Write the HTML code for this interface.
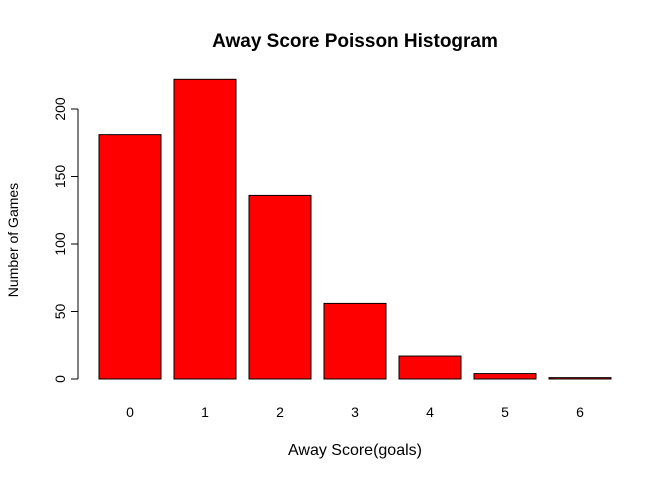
<!DOCTYPE html>
<html><head><meta charset="utf-8"><style>body{margin:0;background:#fff}svg{display:block;font-family:"Liberation Sans",sans-serif}</style></head>
<body>
<svg width="672" height="480">
<text x="355" y="47" text-anchor="middle" font-size="19" font-weight="bold">Away Score Poisson Histogram</text>
<text x="355" y="455" text-anchor="middle" font-size="16">Away Score(goals)</text>
<text transform="translate(18,240) rotate(-90)" text-anchor="middle" font-size="14">Number of Games</text>
<g id="bars"></g><g id="yaxis"></g><g id="xlabels"></g>
</svg>
<script>
const categories=["0","1","2","3","4","5","6"];
const counts=[181,222,136,56,17,4,1];
const yTicks=[0,50,100,150,200];
const ns="http://www.w3.org/2000/svg";
const y=v=>379-v*1.35;
const xc=i=>130+i*75;
const bars=document.getElementById("bars"),ya=document.getElementById("yaxis"),xl=document.getElementById("xlabels");
counts.forEach((v,i)=>{
 const r=document.createElementNS(ns,"rect");
 r.setAttribute("x",xc(i)-31);r.setAttribute("y",y(v));r.setAttribute("width",62);r.setAttribute("height",379-y(v));
 r.setAttribute("fill","#ff0000");r.setAttribute("stroke","#000");r.setAttribute("stroke-width","1");
 
 
 bars.appendChild(r);
 const t=document.createElementNS(ns,"text");
 t.setAttribute("x",xc(i));t.setAttribute("y",417);t.setAttribute("text-anchor","middle");t.setAttribute("font-size","14");
 t.textContent=categories[i];
 
 
 xl.appendChild(t);
});
const ax=document.createElementNS(ns,"line");
ax.setAttribute("x1",78);ax.setAttribute("x2",78);ax.setAttribute("y1",y(0));ax.setAttribute("y2",y(200));ax.setAttribute("stroke","#000");


ya.appendChild(ax);
yTicks.forEach(v=>{
 const l=document.createElementNS(ns,"line");
 l.setAttribute("x1",71);l.setAttribute("x2",78);l.setAttribute("y1",y(v));l.setAttribute("y2",y(v));l.setAttribute("stroke","#000");
 
 
 ya.appendChild(l);
 const t=document.createElementNS(ns,"text");
 t.setAttribute("transform","translate(65,"+y(v)+") rotate(-90)");t.setAttribute("text-anchor","middle");t.setAttribute("font-size","14");
 t.textContent=v;
 
 
 ya.appendChild(t);
});
</script>
</body></html>
